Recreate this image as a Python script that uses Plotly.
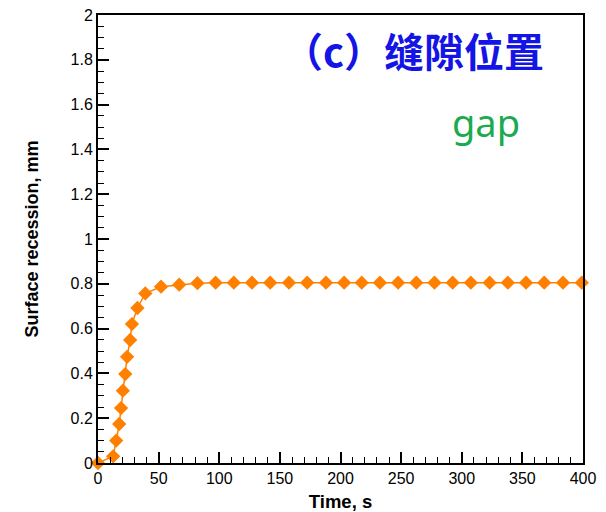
import plotly.graph_objects as go

time_s = [0, 12.5, 15, 17.5, 19, 20.5, 22.5, 24, 26.5, 28, 32.5, 39, 52, 67, 82, 97,
          112, 127, 142, 157.5, 172.5, 188, 203, 217.5, 232.5, 247.5, 262.5, 277.5,
          292.5, 307.5, 323, 338, 353, 368, 383.5, 399]
recession_mm = [0.0, 0.03, 0.10, 0.174, 0.245, 0.323, 0.397, 0.474, 0.549, 0.62, 0.692,
                0.757, 0.787, 0.796, 0.803, 0.805, 0.805, 0.805, 0.805, 0.805, 0.805,
                0.805, 0.805, 0.805, 0.805, 0.805, 0.805, 0.805, 0.805, 0.805, 0.805,
                0.805, 0.805, 0.805, 0.805, 0.805]

title_cn = "（c）缝隙位置"
title_en = "gap"

orange = "#FF8000"

fig = go.Figure()
fig.add_trace(go.Scatter(
    x=time_s, y=recession_mm, mode="lines+markers",
    line=dict(color=orange, width=1.5),
    marker=dict(symbol="diamond", size=11, color=orange),
    cliponaxis=False, showlegend=False,
))

axis_common = dict(
    showgrid=False, zeroline=False, showline=True, linecolor="black", linewidth=2,
    mirror=True, ticks="inside", ticklen=11, tickwidth=2, tickcolor="black",
    automargin=False,
    tickfont=dict(family="Liberation Sans, Arial", size=16, color="black"),
)

fig.update_xaxes(
    range=[0, 400], tick0=0, dtick=50,
    minor=dict(ticks="inside", ticklen=6, tickwidth=1, tickcolor="black", dtick=10),
    title=dict(text="<b>Time, s</b>", font=dict(family="Liberation Sans, Arial", size=18.5, color="black"), standoff=9),
    **axis_common,
)
fig.update_yaxes(
    range=[0, 2], tick0=0, dtick=0.2, tickformat="~g",
    minor=dict(ticks="inside", ticklen=6, tickwidth=1, tickcolor="black", dtick=0.05),
    title=dict(text="<b>Surface recession, mm</b>", font=dict(family="Liberation Sans, Arial", size=18, color="black"), standoff=27),
    **axis_common,
)

fig.update_layout(
    width=606, height=512, margin=dict(l=98, r=23, t=15, b=49),
    paper_bgcolor="white", plot_bgcolor="white",
    annotations=[
        dict(text="<b>" + title_cn + "</b>", x=0.650, y=0.922, xref="paper", yref="paper",
             xanchor="center", yanchor="middle", showarrow=False,
             font=dict(family="Noto Sans CJK SC", size=40, color="#1414E6")),
        dict(text=title_en, x=0.80, y=0.762, xref="paper", yref="paper",
             xanchor="center", yanchor="middle", showarrow=False,
             font=dict(family="Noto Sans", size=38, color="#1AAA50")),
    ],
)

fig.write_html("out.html")
